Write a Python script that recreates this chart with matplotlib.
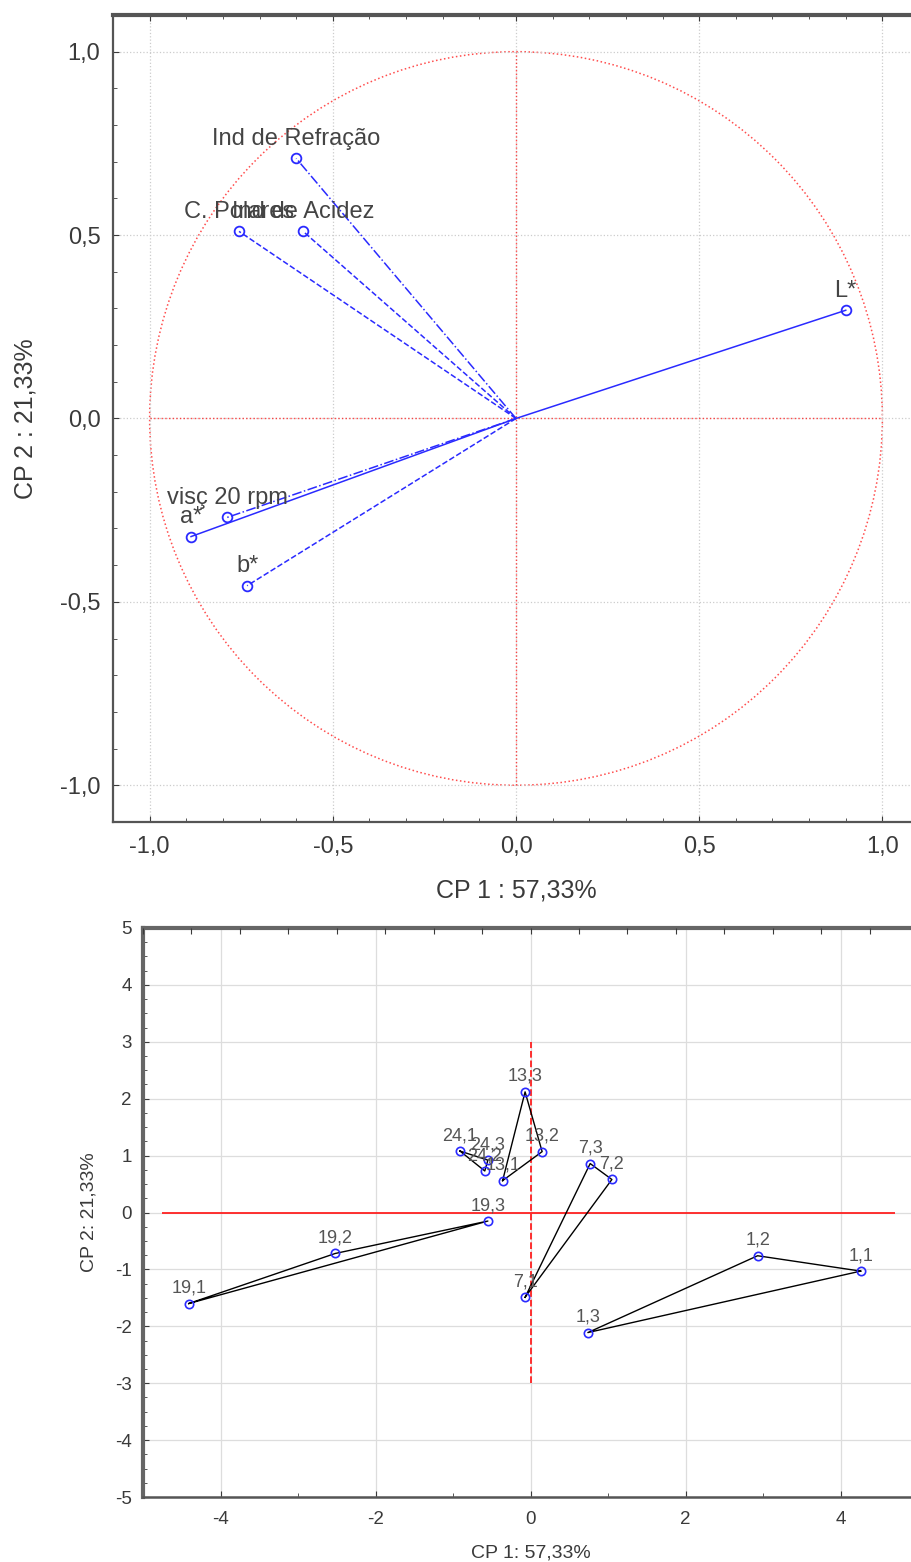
import numpy as np
import matplotlib
matplotlib.use('Agg')
import matplotlib.pyplot as plt
from matplotlib.patches import Circle
from matplotlib.ticker import MultipleLocator, FuncFormatter

plt.rcParams['font.family'] = ['Liberation Sans', 'DejaVu Sans']
plt.rcParams['axes.unicode_minus'] = False

# Loadings (circle of correlations)
var_names = ['L*', 'Ind de Refração', 'C. Polares', 'Ind de Acidez', 'visç 20 rpm', 'a*', 'b*']
var_cp1 = [0.900, -0.600, -0.756, -0.581, -0.789, -0.887, -0.734]
var_cp2 = [0.295, 0.709, 0.510, 0.510, -0.270, -0.322, -0.456]
var_styles = ['-', '-.', '--', '--', '-.', '-', '--']

# Scores of the samples (three replicates per treatment)
groups = ['1', '7', '13', '19', '24']
score_cp1 = {
    '1': [4.26, 2.93, 0.74],
    '7': [-0.07, 1.05, 0.77],
    '13': [-0.36, 0.15, -0.07],
    '19': [-4.41, -2.52, -0.55],
    '24': [-0.91, -0.59, -0.55],
}
score_cp2 = {
    '1': [-1.03, -0.76, -2.11],
    '7': [-1.49, 0.58, 0.86],
    '13': [0.56, 1.07, 2.12],
    '19': [-1.60, -0.72, -0.15],
    '24': [1.08, 0.73, 0.92],
}

label_x = 'CP 1 : 57,33%'
label_y = 'CP 2 : 21,33%'

blue = '#2a2aff'
red = '#ff2020'
txt = '#3a3a3a'


def comma_fmt(dec):
    return FuncFormatter(lambda v, pos: f'{v:.{dec}f}'.replace('.', ','))


fig = plt.figure(figsize=(9.12, 15.62), dpi=100)

# ---------------- top: loadings ----------------
ax = fig.add_axes([0.1239, 0.4738, 0.8838, 0.5166])
ax.set_xlim(-1.1, 1.1)
ax.set_ylim(-1.1, 1.1)
radius = 1.0
ax.add_patch(Circle((0, 0), radius, fill=False, edgecolor=red, linestyle=':', linewidth=1.1, alpha=0.8))
ax.hlines(0, -radius, radius, colors=red, linestyles=':', linewidth=1.0, alpha=0.8)
ax.vlines(0, -radius, radius, colors=red, linestyles=':', linewidth=1.0, alpha=0.8)

for name, x, y, ls in zip(var_names, var_cp1, var_cp2, var_styles):
    ax.plot([0, x], [0, y], color=blue, linestyle=ls, linewidth=1.1)
    ax.plot(x, y, 'o', mfc='none', mec=blue, ms=7, mew=1.3)
    ax.annotate(name, (x, y), xytext=(0, 6), textcoords='offset points',
                ha='center', va='bottom', fontsize=17, color='#444444')

ax.xaxis.set_major_locator(MultipleLocator(0.5))
ax.yaxis.set_major_locator(MultipleLocator(0.5))
ax.xaxis.set_minor_locator(MultipleLocator(0.1))
ax.yaxis.set_minor_locator(MultipleLocator(0.1))
ax.xaxis.set_major_formatter(comma_fmt(1))
ax.yaxis.set_major_formatter(comma_fmt(1))
ax.tick_params(which='both', direction='in', top=True, right=True, colors=txt)
ax.tick_params(which='major', length=4, labelsize=17)
ax.tick_params(which='minor', length=3)
ax.tick_params(axis='x', pad=10)
ax.tick_params(axis='y', pad=9)
ax.grid(True, which='major', color='#cccccc', linestyle=':', linewidth=0.9)
for side in ['left', 'bottom', 'right']:
    ax.spines[side].set_color('#555555')
    ax.spines[side].set_linewidth(1.6)
ax.spines['top'].set_color('#555555')
ax.spines['top'].set_linewidth(3)
ax.set_xlabel(label_x, fontsize=18, color=txt)
ax.set_ylabel(label_y, fontsize=18, color=txt)
ax.xaxis.set_label_coords(0.5, -0.07)
ax.yaxis.set_label_coords(-0.094, 0.5)

# ---------------- bottom: scores ----------------
bx = fig.add_axes([0.1568, 0.0416, 0.8498, 0.3643])
bx.set_xlim(-5, 5)
bx.set_ylim(-5, 5)
bx.hlines(0, -4.75, 4.7, colors=red, linewidth=1.3)
bx.vlines(0, -3, 3, colors=red, linestyles='--', linewidth=1.3)

for g in groups:
    xs = score_cp1[g]
    ys = score_cp2[g]
    bx.plot(xs + xs[:1], ys + ys[:1], color='black', linewidth=1.0)
for g in groups:
    xs = score_cp1[g]
    ys = score_cp2[g]
    bx.plot(xs, ys, 'o', mfc='none', mec=blue, ms=6, mew=1.2, linestyle='none')
    for i, (x, y) in enumerate(zip(xs, ys)):
        bx.annotate(f'{g},{i + 1}', (x, y), xytext=(0, 5), textcoords='offset points',
                    ha='center', va='bottom', fontsize=13, color='#555555')

bx.xaxis.set_major_locator(MultipleLocator(2))
bx.xaxis.set_minor_locator(MultipleLocator(1))
bx.yaxis.set_major_locator(MultipleLocator(1))
bx.yaxis.set_minor_locator(MultipleLocator(0.25))
bx.tick_params(which='both', direction='in', colors=txt)
bx.tick_params(which='major', length=4, labelsize=13.5)
bx.tick_params(which='minor', length=3)
bx.tick_params(axis='x', pad=10)
bx.tick_params(axis='y', pad=8)
bx.grid(True, which='major', color='#dddddd', linestyle='-', linewidth=0.9)
bx.spines['left'].set_color('#666666')
bx.spines['left'].set_linewidth(3)
bx.spines['top'].set_color('#666666')
bx.spines['top'].set_linewidth(3)
bx.spines['bottom'].set_color('#555555')
bx.spines['bottom'].set_linewidth(1.8)
bx.spines['right'].set_visible(False)

tx = bx.twiny()
tx.set_xlim(-5, 5)
tx.xaxis.set_major_locator(MultipleLocator(0.625))
tx.tick_params(direction='in', length=4, labeltop=False, colors=txt)
for s in tx.spines.values():
    s.set_visible(False)

bx.set_xlabel('CP 1: 57,33%', fontsize=14, color=txt)
bx.set_ylabel('CP 2: 21,33%', fontsize=14, color=txt)
bx.xaxis.set_label_coords(0.5, -0.084)
bx.yaxis.set_label_coords(-0.059, 0.5)

fig.savefig('out.png', dpi=100)
